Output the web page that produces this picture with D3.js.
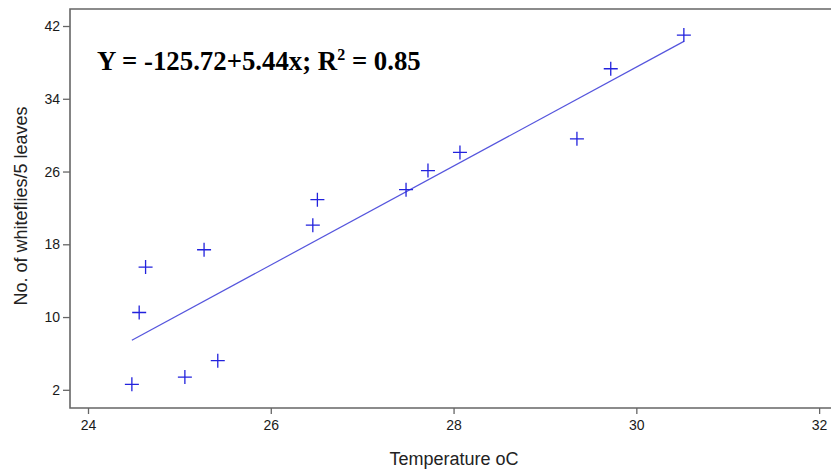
<!DOCTYPE html>
<html>
<head>
<meta charset="utf-8">
<script src="https://cdn.jsdelivr.net/npm/d3@7"></script>
<style>
  body { margin: 0; background: #fff; }
  .axis text { font-family: "Liberation Sans", Arial, sans-serif; font-size: 14px; fill: #1a1a1a; }
  .axis line { stroke: #666; stroke-width: 1.3; }
</style>
</head>
<body>
<div id="wrapper"></div>
<script>
// values
const temperature = [24.48, 25.06, 25.42, 24.56, 24.63, 25.27, 26.46, 26.51, 27.48, 27.72, 28.07, 29.35, 29.72, 30.52];
const whiteflies  = [2.6, 3.4, 5.2, 10.5, 15.5, 17.4, 20.1, 22.9, 24.0, 26.1, 28.1, 29.6, 37.3, 41.0];
const xTicks = [24, 26, 28, 30, 32];
const yTicks = [2, 10, 18, 26, 34, 42];
const intercept = -125.72;
const slope = 5.44;

const dimension = {
    width: 831,
    height: 470,
    margin: { top: 9, left: 70, bottom: 62, right: 0 }
};
dimension.boundedWidth = dimension.width - dimension.margin.left - dimension.margin.right;
dimension.boundedHeight = dimension.height - dimension.margin.top - dimension.margin.bottom;

const svg = d3.select("#wrapper").append("svg")
    .attr("width", dimension.width)
    .attr("height", dimension.height);

const bounded = svg.append("g")
    .attr("transform", `translate(${dimension.margin.left},${dimension.margin.top})`);

const xScaler = d3.scaleLinear()
    .domain([23.803, 32.13])
    .range([0, dimension.boundedWidth]);

const yScaler = d3.scaleLinear()
    .domain([0, 43.87])
    .range([dimension.boundedHeight, 0]);

// frame (no right border visible)
bounded.append("path")
    .attr("d", `M${dimension.boundedWidth + 5},0H0V${dimension.boundedHeight}H${dimension.boundedWidth + 5}`)
    .attr("fill", "none")
    .attr("stroke", "#666")
    .attr("stroke-width", 1.6);

// axes
const xAxisGroup = bounded.append("g")
    .classed("axis", true)
    .attr("transform", `translate(0,${dimension.boundedHeight})`)
    .call(d3.axisBottom(xScaler).tickValues(xTicks).tickSize(6).tickPadding(6));

const yAxisGroup = bounded.append("g")
    .classed("axis", true)
    .call(d3.axisLeft(yScaler).tickValues(yTicks).tickSize(7).tickPadding(3));

bounded.selectAll(".axis .domain").remove();

// regression line
const xMin = d3.min(temperature), xMax = d3.max(temperature);
bounded.append("line")
    .attr("x1", xScaler(xMin))
    .attr("y1", yScaler(intercept + slope * xMin))
    .attr("x2", xScaler(xMax))
    .attr("y2", yScaler(intercept + slope * xMax))
    .attr("stroke", "#5555dd")
    .attr("stroke-width", 1.2);

// plus markers
bounded.append("g")
    .selectAll("path")
    .data(temperature)
    .join("path")
    .attr("transform", (d, i) => `translate(${xScaler(d)},${yScaler(whiteflies[i])})`)
    .attr("d", "M-7,0H7M0,-7V7")
    .attr("stroke", "#2222dd")
    .attr("stroke-width", 1.3)
    .attr("fill", "none");

// equation
const eq = svg.append("text")
    .attr("x", 97)
    .attr("y", 70)
    .attr("font-family", "'Liberation Serif', 'Times New Roman', serif")
    .attr("font-weight", "bold")
    .attr("font-size", "26.8px")
    .attr("fill", "#000");
eq.append("tspan").text("Y = -125.72+5.44x; R");
eq.append("tspan").attr("font-size", "16px").attr("dy", -10).text("2");
eq.append("tspan").attr("dy", 10).text(" = 0.85");

// axis labels
svg.append("text")
    .attr("x", 454)
    .attr("y", 465)
    .attr("text-anchor", "middle")
    .attr("font-family", "'Liberation Sans', Arial, sans-serif")
    .attr("font-size", "18px")
    .attr("fill", "#222")
    .text("Temperature oC");

svg.append("text")
    .attr("transform", "translate(27,206) rotate(-90)")
    .attr("text-anchor", "middle")
    .attr("font-family", "'Liberation Sans', Arial, sans-serif")
    .attr("font-size", "18px")
    .attr("fill", "#222")
    .text("No. of whiteflies/5 leaves");
</script>
</body>
</html>
